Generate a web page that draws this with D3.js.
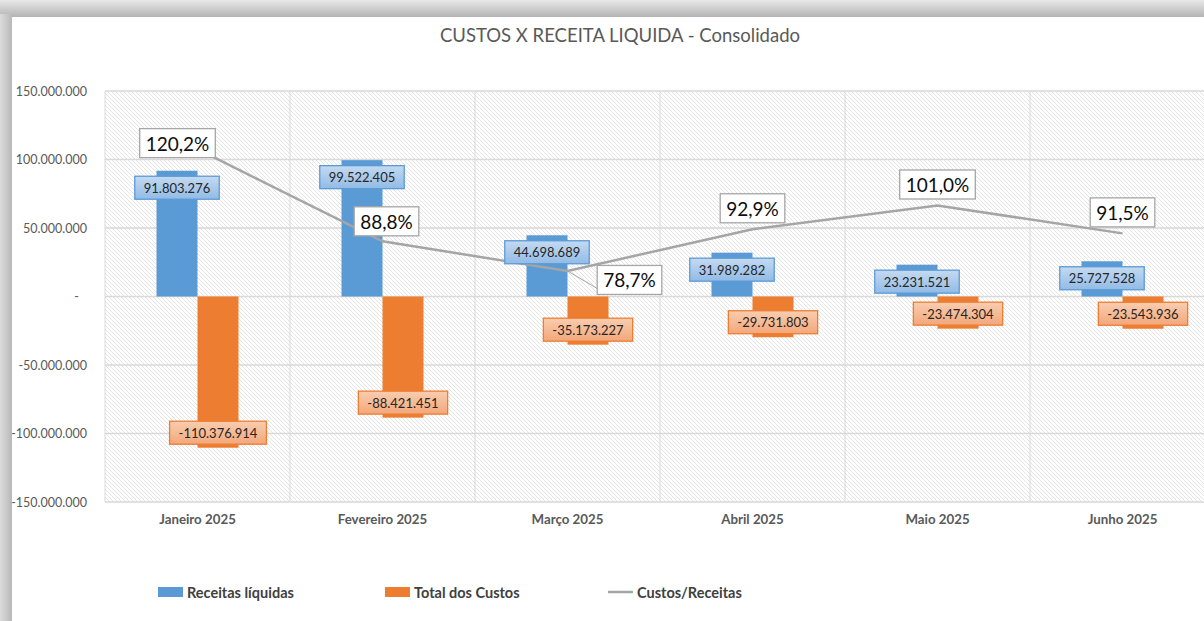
<!DOCTYPE html>
<html>
<head>
<meta charset="utf-8">
<script src="https://cdn.jsdelivr.net/npm/d3@7"></script>
<style>
  body { margin: 0; background: #fff; }
  svg { display: block; font-family: Lato, "Open Sans", sans-serif; }
</style>
</head>
<body>
<div id="chart"></div>
<script>
// data
const months = ["Janeiro 2025", "Fevereiro 2025", "Março 2025", "Abril 2025", "Maio 2025", "Junho 2025"];
const receitas = [91803276, 99522405, 44698689, 31989282, 23231521, 25727528];
const custos = [-110376914, -88421451, -35173227, -29731803, -23474304, -23543936];
const razao = [1.202, 0.888, 0.787, 0.929, 1.010, 0.915];
const yTicks = [-150000000, -100000000, -50000000, 0, 50000000, 100000000, 150000000];
const seriesNames = ["Receitas líquidas", "Total dos Custos", "Custos/Receitas"];

// where the % labels were dragged, relative to their point
const pctNudge = [[-20, -6], [4, -20], [62, 9], [0, -21], [0, -21], [0, -21]];

const W = 1204, H = 621;
const plot = {left: 105, top: 91, bottom: 502, right: 1215};

const pt = d3.formatLocale({decimal: ",", thousands: ".", grouping: [3], currency: ["R$", ""], minus: "-"});
const fmtNum = pt.format(",d");
const fmtPct = pt.format(".1%");

const svg = d3.select("#chart").append("svg")
  .attr("width", W).attr("height", H);

const defs = svg.append("defs");
const pat = defs.append("pattern")
  .attr("id", "hatch").attr("patternUnits", "userSpaceOnUse")
  .attr("width", 4).attr("height", 4);
pat.append("rect").attr("width", 4).attr("height", 4).attr("fill", "#fff");
pat.append("path")
  .attr("d", "M0,0 L4,4 M-1,3 L1,5 M3,-1 L5,1")
  .attr("stroke", "#dddddd").attr("stroke-width", 0.8);

function grad(id, c1, c2) {
  const g = defs.append("linearGradient").attr("id", id)
    .attr("x1", 0).attr("y1", 0).attr("x2", 0).attr("y2", 1);
  g.append("stop").attr("offset", "0%").attr("stop-color", c1);
  g.append("stop").attr("offset", "100%").attr("stop-color", c2);
}
grad("gBlue", "#c4daf1", "#92bbe6");
grad("gOrange", "#f9cdb0", "#f3a77a");
grad("gTop", "#e8e8e8", "#b4b4b4");
const gl = defs.append("linearGradient").attr("id", "gLeft")
  .attr("x1", 0).attr("y1", 0).attr("x2", 1).attr("y2", 0);
gl.append("stop").attr("offset", "0%").attr("stop-color", "#dcdcdc");
gl.append("stop").attr("offset", "100%").attr("stop-color", "#b8b8b8");

// window frame / shadow
svg.append("rect").attr("width", W).attr("height", H).attr("fill", "#d2d2d2");
svg.append("rect").attr("x", 0).attr("y", 0).attr("width", W).attr("height", 17).attr("fill", "url(#gTop)");
svg.append("rect").attr("x", 0).attr("y", 14).attr("width", 12).attr("height", H).attr("fill", "url(#gLeft)");
svg.append("rect").attr("x", 12).attr("y", 17).attr("width", W).attr("height", H).attr("fill", "#fff");

// title
svg.append("text")
  .attr("x", 620).attr("y", 42)
  .attr("text-anchor", "middle")
  .attr("font-size", 18.5).attr("fill", "#595959")
  .text("CUSTOS X RECEITA LIQUIDA - Consolidado");

// scales
const x = d3.scaleBand().domain(months).range([plot.left, plot.right]);
const x1 = d3.scaleBand().domain([0, 1]).range([0, x.bandwidth()]).paddingInner(0).paddingOuter(1.256);
const y = d3.scaleLinear().domain([-150000000, 150000000]).range([plot.bottom, plot.top]);
const y2 = d3.scaleLinear().domain([0, 1.4]).range([plot.bottom, plot.top]);

// plot area background
svg.append("rect")
  .attr("x", plot.left).attr("y", plot.top)
  .attr("width", plot.right - plot.left).attr("height", plot.bottom - plot.top)
  .attr("fill", "url(#hatch)");

// gridlines
svg.append("g").selectAll("line").data(yTicks).join("line")
  .attr("x1", plot.left).attr("x2", plot.right)
  .attr("y1", d => y(d)).attr("y2", d => y(d))
  .attr("stroke", "#d9d9d9").attr("stroke-width", 1.3);
svg.append("g").selectAll("line").data(months).join("line")
  .attr("x1", d => x(d)).attr("x2", d => x(d))
  .attr("y1", plot.top).attr("y2", plot.bottom)
  .attr("stroke", "#d9d9d9").attr("stroke-width", 1);

// y axis labels
const yAxis = svg.append("g")
  .attr("transform", `translate(${plot.left - 15},0)`)
  .call(d3.axisLeft(y).tickValues(yTicks).tickSize(0)
    .tickFormat(d => d === 0 ? "-" : fmtNum(d)));
yAxis.select(".domain").remove();
yAxis.selectAll("text")
  .attr("font-family", "Lato, sans-serif").attr("font-size", 12.5).attr("fill", "#595959")
  .attr("dx", d => d === 0 ? -8 : 0);

// x axis labels
const xAxis = svg.append("g")
  .attr("transform", `translate(0,${plot.bottom + 10})`)
  .call(d3.axisBottom(x).tickSize(0));
xAxis.select(".domain").remove();
xAxis.selectAll("text")
  .attr("font-family", "Lato, sans-serif").attr("font-size", 13.3)
  .attr("font-weight", "bold").attr("fill", "#595959");

// bars
const rows = months.map((m, i) => ({m, rec: receitas[i], cus: custos[i], pct: razao[i]}));

svg.append("g").selectAll("rect").data(rows).join("rect")
  .attr("x", d => x(d.m) + x1(0))
  .attr("width", x1.bandwidth())
  .attr("y", d => y(d.rec))
  .attr("height", d => y(0) - y(d.rec))
  .attr("fill", "#5b9bd5");

svg.append("g").selectAll("rect").data(rows).join("rect")
  .attr("x", d => x(d.m) + x1(1))
  .attr("width", x1.bandwidth())
  .attr("y", y(0))
  .attr("height", d => y(d.cus) - y(0))
  .attr("fill", "#ed7d31");

// ratio line
const cx = d => x(d.m) + x.bandwidth() / 2;
svg.append("path")
  .datum(rows)
  .attr("fill", "none")
  .attr("stroke", "#a5a5a5")
  .attr("stroke-width", 2.5)
  .attr("d", d3.line().x(cx).y(d => y2(d.pct)));

// boxed label helper
function boxLabel(g, tx, ty, text, size, fill, stroke, color) {
  const grp = g.append("g");
  const r = grp.append("rect");
  const t = grp.append("text")
    .attr("x", tx).attr("y", ty)
    .attr("text-anchor", "middle").attr("dominant-baseline", "central")
    .attr("font-size", size).attr("fill", color)
    .text(text);
  const w = t.node().getComputedTextLength();
  const pad = size > 15 ? 6 : 9;
  const h = size > 15 ? 29 : 23;
  r.attr("x", tx - w / 2 - pad).attr("y", ty - h / 2)
    .attr("width", w + 2 * pad).attr("height", h)
    .attr("fill", fill).attr("stroke", stroke).attr("stroke-width", 1.3);
  return {x: tx - w / 2 - pad, y: ty - h / 2, w: w + 2 * pad, h};
}

const labels = svg.append("g");
rows.forEach((d, i) => {
  const bx = x(d.m) + x1(0) + x1.bandwidth() / 2;
  boxLabel(labels, bx, y(d.rec) + 17, fmtNum(d.rec), 13, "url(#gBlue)", "#5b9bd5", "#262626");
  const ox = x(d.m) + x1(1) + x1.bandwidth() / 2;
  boxLabel(labels, ox, y(d.cus) - 15, fmtNum(d.cus), 13, "url(#gOrange)", "#ed7d31", "#262626");
});

// percentage labels (with leader where moved away)
rows.forEach((d, i) => {
  const px = cx(d), py = y2(d.pct);
  const lx = px + pctNudge[i][0], ly = py + pctNudge[i][1];
  const b = boxLabel(labels, lx, ly, fmtPct(d.pct), 19, "#fff", "#a6a6a6", "#0d0d0d");
  if (pctNudge[i][0] > 30) {
    labels.insert("line", ":first-child")
      .attr("x1", px).attr("y1", py)
      .attr("x2", b.x).attr("y2", b.y + b.h - 6)
      .attr("stroke", "#a5a5a5").attr("stroke-width", 1);
  }
});

// legend
const legend = svg.append("g").attr("font-size", 14.5).attr("font-weight", "bold").attr("fill", "#404040");
const legX = [158, 385, 608];
seriesNames.forEach((name, i) => {
  const g = legend.append("g").attr("transform", `translate(${legX[i]},592)`);
  if (i < 2) {
    g.append("rect").attr("x", 0).attr("y", -5).attr("width", 25).attr("height", 10)
      .attr("fill", i === 0 ? "#5b9bd5" : "#ed7d31");
  } else {
    g.append("line").attr("x1", 0).attr("x2", 25).attr("y1", 0).attr("y2", 0)
      .attr("stroke", "#a5a5a5").attr("stroke-width", 2.5);
  }
  g.append("text").attr("x", 29).attr("y", 0).attr("dominant-baseline", "central").text(name);
});
</script>
</body>
</html>
